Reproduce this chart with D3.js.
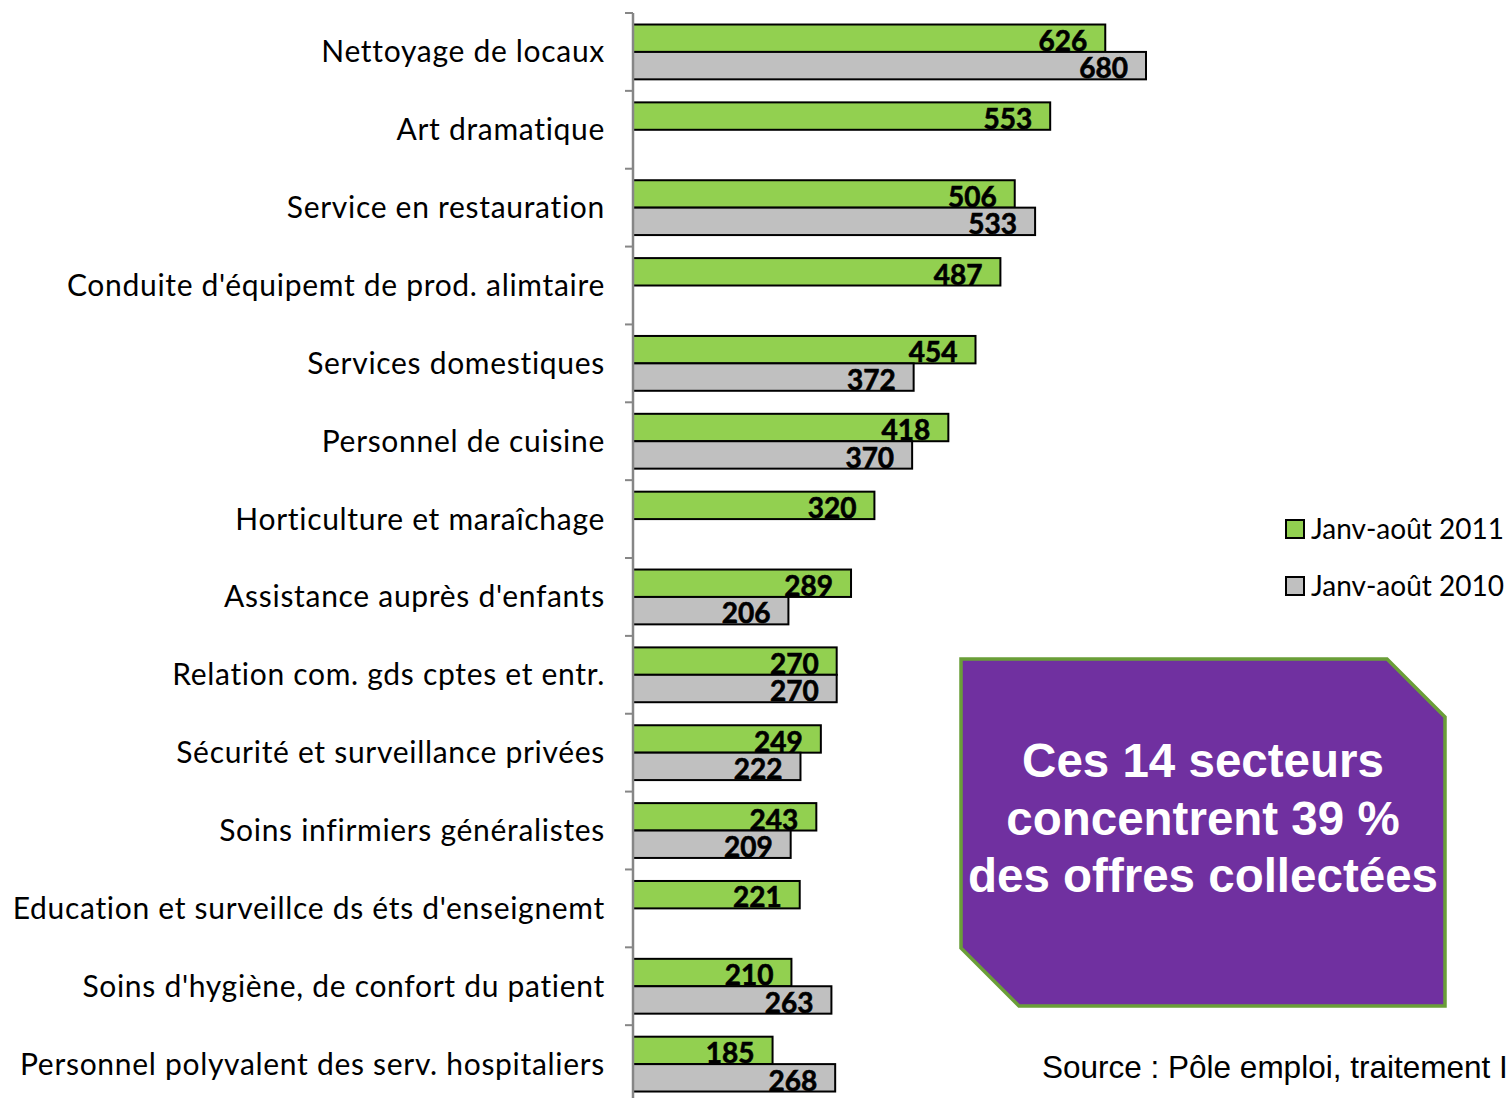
<!DOCTYPE html>
<meta charset="utf-8">
<head>
<script src="https://d3js.org/d3.v7.min.js"></script>
<style>
  body { margin: 0; background: #fff; }
  .cat { font-family: Lato, "Liberation Sans", sans-serif; font-size: 30px; letter-spacing: 0.7px; fill: #000; }
  .val { font-family: Lato, "Liberation Sans", sans-serif; font-size: 28px; font-weight: bold; fill: #000; stroke: #000; stroke-width: 0.6px; }
  .leg { font-family: Lato, "Liberation Sans", sans-serif; font-size: 28px; fill: #000; }
</style>
</head>
<body>
<svg width="1510" height="1098"></svg>
<script>
var categories = ["Nettoyage de locaux", "Art dramatique", "Service en restauration",
  "Conduite d'équipemt de prod. alimtaire", "Services domestiques", "Personnel de cuisine",
  "Horticulture et maraîchage", "Assistance auprès d'enfants", "Relation com. gds cptes et entr.",
  "Sécurité et surveillance privées", "Soins infirmiers généralistes",
  "Education et surveillce ds éts d'enseignemt", "Soins d'hygiène, de confort du patient",
  "Personnel polyvalent des serv. hospitaliers"]
var values2011 = [626, 553, 506, 487, 454, 418, 320, 289, 270, 249, 243, 221, 210, 185]
var values2010 = [680, null, 533, null, 372, 370, null, 206, 270, 222, 209, null, 263, 268]
var seriesNames = ["Janv-août 2011", "Janv-août 2010"]
var seriesColors = ["#92D050", "#C0C0C0"]

var svg = d3.select("svg")
var x0 = 633

var x = d3.scaleLinear().domain([0, 680]).range([x0, x0 + 513])
var y = d3.scaleBand().domain(categories).range([13, 13 + 14 * 77.86])
var ySub = d3.scaleBand().domain(seriesNames).range([0, y.bandwidth()]).paddingInner(0).paddingOuter(0.42)

var rows = categories.map(function(c, i) {
  return {cat: c, vals: [values2011[i], values2010[i]]}
})

// bars
var g = svg.append("g")
rows.forEach(function(r) {
  r.vals.forEach(function(v, j) {
    if (v == null) return
    var yy = y(r.cat) + ySub(seriesNames[j])
    g.append("rect")
      .attr("x", x(0))
      .attr("y", yy)
      .attr("width", x(v) - x(0))
      .attr("height", ySub.bandwidth())
      .attr("fill", seriesColors[j])
      .attr("stroke", "#000")
      .attr("stroke-width", 2)
    g.append("text")
      .attr("class", "val")
      .attr("x", x(v) - 18)
      .attr("y", yy + ySub.bandwidth() - 1)
      .attr("text-anchor", "end")
      .text(v)
  })
})

// axis
svg.append("line")
  .attr("x1", x0).attr("x2", x0)
  .attr("y1", y.range()[0]).attr("y2", 1098)
  .attr("stroke", "#868686").attr("stroke-width", 2.5)
var tickPos = categories.map(function(c) { return y(c) }).concat([y.range()[1]])
svg.selectAll(".tick").data(tickPos).enter().append("line")
  .attr("x1", x0 - 8).attr("x2", x0)
  .attr("y1", function(d) { return d }).attr("y2", function(d) { return d })
  .attr("stroke", "#868686").attr("stroke-width", 2)

svg.selectAll(".cat").data(categories).enter().append("text")
  .attr("class", "cat")
  .attr("x", 605)
  .attr("y", function(d) { return y(d) + y.bandwidth() / 2 })
  .attr("dy", "0.35em")
  .attr("text-anchor", "end")
  .text(function(d) { return d })

// legend
seriesNames.forEach(function(s, i) {
  var ly = 520 + i * 57
  svg.append("rect")
    .attr("x", 1286).attr("y", ly).attr("width", 18).attr("height", 18)
    .attr("fill", seriesColors[i]).attr("stroke", "#000").attr("stroke-width", 2)
  svg.append("text").attr("class", "leg")
    .attr("x", 1311).attr("y", ly + 19)
    .text(s)
})

// callout box
var box = [[961, 659], [1387, 659], [1445, 717], [1445, 1006], [1019, 1006], [961, 948]]
svg.append("path")
  .attr("d", d3.line()(box) + "Z")
  .attr("fill", "#7030A0")
  .attr("stroke", "#6A9E38")
  .attr("stroke-width", 3.5)
var lines = ["Ces 14 secteurs", "concentrent 39 %", "des offres collectées"]
svg.selectAll(".box").data(lines).enter().append("text")
  .attr("x", 1203)
  .attr("y", function(d, i) { return 777 + i * 57.5 })
  .attr("text-anchor", "middle")
  .attr("font-family", "Liberation Sans, Arial, sans-serif")
  .attr("font-weight", "bold")
  .attr("font-size", "47.5px")
  .attr("fill", "#fff")
  .text(function(d) { return d })

svg.append("text")
  .attr("x", 1042).attr("y", 1078)
  .attr("font-family", "Liberation Sans, Arial, sans-serif")
  .attr("font-size", "31.5px")
  .attr("fill", "#000")
  .text("Source : Pôle emploi, traitement I")
</script>
</body>
